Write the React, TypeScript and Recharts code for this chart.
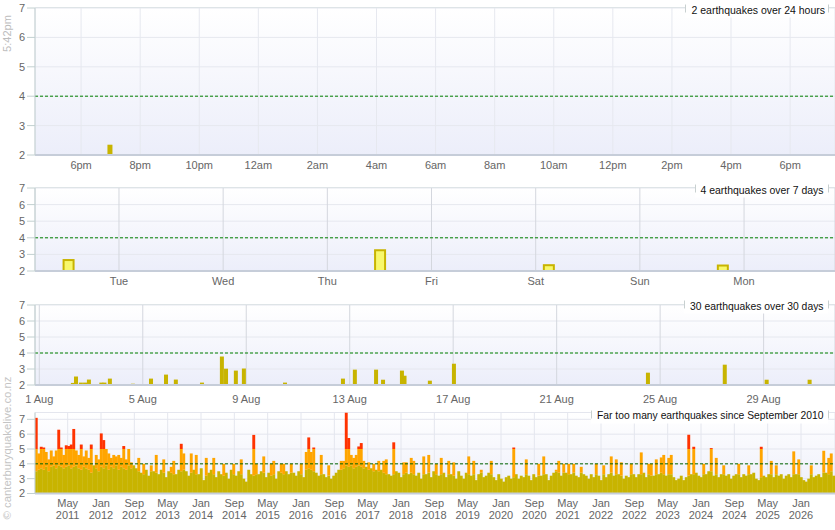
import React from "react";
import { Bar, BarChart, CartesianGrid, ReferenceLine, XAxis, YAxis } from "recharts";

// magnitude scale shared by all four panels
const MAG_TICKS = [2, 3, 4, 5, 6, 7];
const ALERT_MAG = 4;

// last 24 hours (hours counted from noon of the first day)
const HOUR_TICKS = [18, 20, 22, 24, 26, 28, 30, 32, 34, 36, 38, 40, 42];
const HOUR_LABELS = ["6pm", "8pm", "10pm", "12am", "2am", "4am", "6am", "8am", "10am", "12pm", "2pm", "4pm", "6pm"];
const DAY_QUAKE_HOURS = [18.96];
const DAY_QUAKE_MAGS = [2.35];

// last 7 days (days counted from Tuesday midnight)
const WEEK_LABELS = ["Tue", "Wed", "Thu", "Fri", "Sat", "Sun", "Mon"];
const WEEK_QUAKE_DAYS = [-0.48, 2.51, 4.13, 5.8];
const WEEK_QUAKE_MAGS = [2.66, 3.25, 2.35, 2.33];

// last 30 days (days counted from 1 Aug)
const MONTH_LABELS = ["1 Aug", "5 Aug", "9 Aug", "13 Aug", "17 Aug", "21 Aug", "25 Aug", "29 Aug"];
const MONTH_QUAKE_DAYS = [
  1.3, 1.42, 1.61, 1.77, 1.92, 2.4, 2.52, 2.73, 3.62, 4.32,
  4.9, 5.28, 6.29, 7.06, 7.22, 7.6, 7.91, 9.5, 11.74, 12.2,
  13.02, 13.29, 14.02, 14.12, 15.1, 16.03, 23.53, 26.5, 28.12, 29.78,
];
const MONTH_QUAKE_MAGS = [
  2.13, 2.53, 2.15, 2.15, 2.34, 2.15, 2.15, 2.4, 2.08, 2.4,
  2.65, 2.34, 2.15, 3.78, 3.02, 2.9, 3.03, 2.15, 2.4, 2.96,
  2.96, 2.33, 2.9, 2.58, 2.27, 3.33, 2.77, 3.27, 2.33, 2.33,
];

// since September 2010: one column per period, biggest quake and the usual level
const HISTORY_TICK_LABELS = [
  "May 2011", "Jan 2012", "Sep 2012", "May 2013", "Jan 2014", "Sep 2014", "May 2015", "Jan 2016",
  "Sep 2016", "May 2017", "Jan 2018", "Sep 2018", "May 2019", "Jan 2020", "Sep 2020", "May 2021",
  "Jan 2022", "Sep 2022", "May 2023", "Jan 2024", "Sep 2024", "May 2025", "Jan 2026",
];
const HISTORY_START = 2010.68;
const HISTORY_END = 2026.68;
const HISTORY_STEP = 0.05;
const HISTORY_PEAK = [
  7.1, 4.7, 5.15, 5.1, 4.8, 4.3, 4.9, 4.5, 4.9, 6.3, 5.1, 4.6, 5.25, 5.2, 5.3, 6.35, 4.9, 4.6, 5.3, 4.5,
  4.9, 4.4, 5.3, 3.9, 4.6, 4.3, 6.05, 5.6, 5.0, 4.7, 4.4, 4.6, 4.5, 4.6, 4.4, 5.2, 4.3, 5.0, 4.1, 3.9,
  3.7, 4.4, 3.4, 4.0, 3.6, 3.2, 3.9, 3.5, 4.6, 3.3, 3.6, 4.3, 3.1, 3.5, 3.8, 4.2, 3.3, 3.6, 5.35, 4.7,
  3.5, 3.2, 4.7, 3.6, 4.6, 3.3, 3.7, 2.9, 4.4, 3.4, 3.6, 4.4, 3.1, 3.5, 3.3, 4.0, 3.4, 3.0, 3.6, 4.0,
  3.2, 3.5, 4.3, 3.0, 2.8, 3.6, 3.3, 5.95, 4.0, 3.3, 3.5, 4.5, 3.1, 3.4, 4.0, 4.2, 3.0, 3.5, 4.0, 4.0,
  3.5, 3.3, 4.0, 3.4, 3.2, 3.5, 4.0, 3.1, 4.8, 5.78, 4.8, 5.1, 3.4, 3.2, 4.6, 3.3, 3.1, 3.9, 3.0, 3.2,
  3.4, 3.6, 4.2, 4.2, 7.8, 5.74, 4.6, 4.4, 4.6, 5.17, 5.4, 4.2, 3.8, 4.1, 3.7, 4.0, 3.6, 4.2, 3.6, 4.2,
  4.3, 3.3, 3.2, 5.45, 3.5, 3.4, 3.1, 4.1, 4.1, 3.3, 4.4, 4.2, 3.2, 3.4, 3.0, 4.5, 3.3, 4.6, 3.1, 3.5,
  4.0, 3.2, 4.4, 3.4, 3.1, 4.2, 3.3, 4.1, 3.0, 3.5, 3.2, 3.0, 3.4, 4.5, 3.2, 4.2, 2.9, 3.3, 3.6, 3.1,
  3.2, 3.4, 4.2, 3.1, 2.9, 3.3, 3.0, 2.8, 3.1, 3.2, 3.0, 5.1, 3.3, 3.0, 3.2, 3.1, 4.3, 3.2, 2.9, 3.3,
  3.1, 4.0, 3.2, 4.5, 3.3, 2.9, 3.2, 3.4, 3.6, 4.2, 3.2, 4.0, 3.4, 4.0, 3.3, 4.0, 3.2, 3.1, 3.8, 3.3,
  3.2, 3.0, 3.3, 3.1, 4.0, 3.2, 2.9, 3.9, 3.1, 3.3, 4.5, 3.2, 4.3, 3.3, 4.1, 3.0, 3.2, 3.1, 4.0, 3.3,
  3.1, 3.3, 4.77, 3.4, 3.1, 4.0, 4.0, 3.2, 4.3, 3.3, 4.43, 4.6, 3.2, 4.4, 4.6, 3.1, 2.9, 3.0, 3.2, 2.9,
  3.1, 5.96, 3.3, 5.15, 3.4, 3.2, 3.1, 4.0, 3.3, 3.5, 5.06, 3.2, 4.4, 3.1, 3.3, 3.9, 3.2, 3.3, 3.0, 3.2,
  3.3, 4.0, 3.1, 3.3, 3.2, 3.9, 3.3, 3.4, 3.0, 2.9, 5.15, 3.2, 3.1, 3.3, 4.2, 3.1, 3.9, 3.2, 3.3, 3.0,
  3.2, 3.3, 3.1, 4.84, 3.3, 4.3, 3.1, 2.9, 2.8, 3.0, 3.9, 3.1, 3.2, 3.3, 3.1, 4.88, 3.4, 4.4, 4.7, 3.2,
];
const HISTORY_BULK = [
  3.5, 3.6, 3.7, 3.6, 3.8, 3.5, 3.8, 3.9, 3.7, 3.9, 3.8, 3.7, 3.8, 3.9, 3.7, 3.8, 3.9, 3.7, 3.6, 3.8,
  3.7, 3.6, 3.4, 3.9, 3.7, 3.5, 3.8, 3.7, 3.9, 3.6, 3.8, 3.7, 3.9, 3.6, 3.8, 3.7, 3.6, 3.9, 3.7, 3.9,
  3.7, 3.5, 3.4, 3.3, 3.6, 3.2, 3.5, 3.5, 3.4, 3.3, 3.6, 3.4, 3.1, 3.5, 3.4, 3.3, 3.3, 3.6, 3.5, 3.6,
  3.5, 3.2, 3.4, 3.6, 3.3, 3.3, 3.7, 2.9, 3.2, 3.4, 3.6, 3.3, 3.1, 3.5, 3.3, 3.2, 3.4, 3.0, 3.6, 3.3,
  3.2, 3.5, 3.3, 3.0, 2.8, 3.6, 3.3, 3.2, 3.3, 3.3, 3.5, 3.4, 3.1, 3.4, 3.2, 3.3, 3.0, 3.5, 3.4, 3.3,
  3.5, 3.3, 3.4, 3.4, 3.2, 3.5, 3.3, 3.1, 3.6, 3.7, 3.6, 3.5, 3.4, 3.2, 3.3, 3.3, 3.1, 3.2, 3.0, 3.2,
  3.4, 3.6, 3.6, 3.7, 3.9, 3.8, 3.9, 3.7, 3.8, 3.9, 3.8, 3.7, 3.8, 3.6, 3.7, 3.5, 3.6, 3.5, 3.6, 3.4,
  3.3, 3.3, 3.2, 3.3, 3.5, 3.4, 3.1, 3.3, 3.4, 3.3, 3.4, 3.3, 3.2, 3.4, 3.0, 3.3, 3.3, 3.4, 3.1, 3.5,
  3.3, 3.2, 3.3, 3.4, 3.1, 3.3, 3.3, 3.2, 3.0, 3.5, 3.2, 3.0, 3.4, 3.3, 3.2, 3.3, 2.9, 3.3, 3.4, 3.1,
  3.2, 3.4, 3.3, 3.1, 2.9, 3.3, 3.0, 2.8, 3.1, 3.2, 3.0, 3.1, 3.3, 3.0, 3.2, 3.1, 3.3, 3.2, 2.9, 3.3,
  3.1, 3.2, 3.2, 3.3, 3.3, 2.9, 3.2, 3.4, 3.5, 3.4, 3.2, 3.4, 3.4, 3.3, 3.3, 3.4, 3.2, 3.1, 3.4, 3.3,
  3.2, 3.0, 3.3, 3.1, 3.3, 3.2, 2.9, 3.3, 3.1, 3.3, 3.4, 3.2, 3.3, 3.3, 3.2, 3.0, 3.2, 3.1, 3.3, 3.3,
  3.1, 3.3, 3.3, 3.4, 3.1, 3.3, 3.2, 3.2, 3.3, 3.3, 3.4, 3.3, 3.2, 3.3, 3.3, 3.1, 2.9, 3.0, 3.2, 2.9,
  3.1, 3.2, 3.3, 3.3, 3.4, 3.2, 3.1, 3.3, 3.3, 3.5, 3.5, 3.2, 3.3, 3.1, 3.3, 3.3, 3.2, 3.3, 3.0, 3.2,
  3.3, 3.3, 3.1, 3.3, 3.2, 3.3, 3.3, 3.4, 3.0, 2.9, 3.1, 3.2, 3.1, 3.3, 3.3, 3.1, 3.3, 3.2, 3.3, 3.0,
  3.2, 3.3, 3.1, 3.3, 3.3, 3.3, 3.1, 2.9, 2.8, 3.0, 3.3, 3.1, 3.2, 3.3, 3.1, 3.4, 3.4, 3.3, 3.5, 3.2,
];

const MONTHS = ["Jan", "Feb", "Mar", "Apr", "May", "Jun", "Jul", "Aug", "Sep", "Oct", "Nov", "Dec"];

const OLIVE = "#c8b400";
const ORANGE = "#ffa500";
const RED = "#ff3300";
const TICK_FILL = "#666666";
const AXIS_STROKE = "#c2d0d0";
const BASE_STROKE = "#c6cdd9";
const FONT = "'Liberation Sans', Arial, sans-serif";

const dayData = DAY_QUAKE_HOURS.map((t, i) => ({ t, mag: DAY_QUAKE_MAGS[i] }));
const weekData = WEEK_QUAKE_DAYS.map((t, i) => ({ t, mag: WEEK_QUAKE_MAGS[i] }));
const monthData = MONTH_QUAKE_DAYS.map((t, i) => ({ t, mag: MONTH_QUAKE_MAGS[i] }));

const weekTicks = WEEK_LABELS.map((_, i) => i);
const monthTicks = MONTH_LABELS.map((l) => parseInt(l, 10) - 1);

const historyTicks = HISTORY_TICK_LABELS.map((l) => {
  const [m, y] = l.split(" ");
  return Number(y) + MONTHS.indexOf(m) / 12;
});

// split each column into olive / orange / red pieces for stacking
const historyData = HISTORY_PEAK.map((peak, i) => {
  const olive = Math.min(HISTORY_BULK[i], peak);
  const orangeTop = Math.min(peak, 5);
  return {
    t: HISTORY_START + (i + 0.5) * HISTORY_STEP,
    olive,
    orange: Math.max(0, orangeTop - olive),
    red: Math.max(0, peak - Math.max(5, olive)),
  };
});

// recharts squeezes bars on a number axis to the closest gap between points;
// keep the bar centred where the scale puts it but give it a fixed width
const fixedBar = (w: number) => (props: any) => {
  let { x, y, width, height } = props;
  if (!height) return <g />;
  if (height < 0) {
    y += height;
    height = -height;
  }
  return (
    <rect
      x={x + width / 2 - w / 2}
      y={y}
      width={w}
      height={height}
      fill={props.fill}
      stroke={props.stroke}
      strokeWidth={props.strokeWidth}
    />
  );
};

function PlotBg({ top, height }: { top: number; height: number }) {
  return (
    <div
      style={{
        position: "absolute",
        left: 35,
        top: top - 1,
        width: 800,
        height,
        background: "linear-gradient(#ffffff, #eceefa)",
        borderTop: "1px solid #d6dfdf",
      }}
    />
  );
}

function HistoryTick(props: any) {
  const { x, y, payload } = props;
  const idx = historyTicks.findIndex((v) => Math.abs(v - payload.value) < 1e-6);
  const [m, yr] = (HISTORY_TICK_LABELS[idx] ?? "").split(" ");
  return (
    <text x={x} y={y} textAnchor="middle" fill={TICK_FILL} fontSize={11}>
      <tspan x={x} dy="0.71em">{m}</tspan>
      <tspan x={x} dy="1.03em">{yr}</tspan>
    </text>
  );
}

const yAxisProps = {
  type: "number" as const,
  ticks: MAG_TICKS,
  width: 35,
  interval: 0 as const,
  allowDataOverflow: true,
  axisLine: { stroke: AXIS_STROKE },
  tickLine: { stroke: AXIS_STROKE },
  tickSize: 8,
  tick: { fill: TICK_FILL, fontSize: 11 },
};

const xAxisBase = {
  type: "number" as const,
  dataKey: "t",
  interval: 0 as const,
  allowDataOverflow: true,
  tickLine: false,
  axisLine: { stroke: BASE_STROKE, strokeWidth: 2 },
};

const TITLES = [
  { x0: 685, x1: 828, y: 9.5, tx: 691.5, tw: 133.5, fs: 10.5, text: "2 earthquakes over 24 hours" },
  { x0: 695, x1: 828, y: 189.5, tx: 700.5, tw: 123, fs: 10.5, text: "4 earthquakes over 7 days" },
  { x0: 684, x1: 828, y: 305.5, tx: 690, tw: 133.5, fs: 10.5, text: "30 earthquakes over 30 days" },
  { x0: 591, x1: 828, y: 415.5, tx: 597, tw: 226.5, fs: 10.3, text: "Far too many earthquakes since September 2010" },
];

export default function App() {
  return (
    <div style={{ position: "absolute", left: 0, top: 0, width: 835, height: 530, background: "#fff", fontFamily: FONT, overflow: "hidden" }}>
      {/* last 24 hours */}
      <PlotBg top={8} height={147} />
      <div style={{ position: "absolute", left: 0, top: 0 }}>
        <BarChart width={835} height={180} data={dayData} margin={{ top: 8, right: 0, bottom: 0, left: 0 }}>
          <CartesianGrid stroke="#e6e8ef" />
          <XAxis
            {...xAxisBase}
            domain={[16.44, 43.52]}
            ticks={HOUR_TICKS}
            height={25}
            tickSize={4}
            tickFormatter={(v: number) => HOUR_LABELS[HOUR_TICKS.indexOf(v)] ?? ""}
            tick={{ fill: TICK_FILL, fontSize: 11 }}
          />
          <YAxis {...yAxisProps} domain={[2, 7]} />
          <ReferenceLine y={ALERT_MAG} stroke="#008000" strokeDasharray="3 2" />
          <Bar dataKey="mag" fill={OLIVE} barSize={5} shape={fixedBar(5)} isAnimationActive={false} />
        </BarChart>
      </div>

      {/* last 7 days */}
      <PlotBg top={188} height={83} />
      <div style={{ position: "absolute", left: 0, top: 180 }}>
        <BarChart width={835} height={116} data={weekData} margin={{ top: 8, right: 0, bottom: 0, left: 0 }}>
          <CartesianGrid stroke="#e6e8ef" vertical={false} />
          <CartesianGrid stroke="#d4d7de" horizontal={false} />
          <XAxis
            {...xAxisBase}
            domain={[-0.806, 6.873]}
            ticks={weekTicks}
            height={25}
            tickSize={4}
            tickFormatter={(v: number) => WEEK_LABELS[v] ?? ""}
            tick={{ fill: TICK_FILL, fontSize: 11 }}
          />
          <YAxis {...yAxisProps} domain={[2, 7]} />
          <ReferenceLine y={ALERT_MAG} stroke="#008000" strokeDasharray="3 2" />
          <Bar
            dataKey="mag"
            fill="#f8f86c"
            stroke={OLIVE}
            strokeWidth={2}
            barSize={10}
            shape={fixedBar(10)}
            isAnimationActive={false}
          />
        </BarChart>
      </div>

      {/* last 30 days */}
      <PlotBg top={305} height={80} />
      <div style={{ position: "absolute", left: 0, top: 296 }}>
        <BarChart width={835} height={114} data={monthData} margin={{ top: 9, right: 0, bottom: 0, left: 0 }}>
          <CartesianGrid stroke="#e6e8ef" vertical={false} />
          <CartesianGrid stroke="#d4d7de" horizontal={false} />
          <XAxis
            {...xAxisBase}
            domain={[-0.166, 30.76]}
            ticks={monthTicks}
            height={25}
            tickSize={8}
            tickFormatter={(v: number) => MONTH_LABELS[monthTicks.indexOf(v)] ?? ""}
            tick={{ fill: TICK_FILL, fontSize: 11 }}
          />
          <YAxis {...yAxisProps} domain={[2, 7]} />
          <ReferenceLine y={ALERT_MAG} stroke="#008000" strokeDasharray="3 2" />
          <Bar dataKey="mag" fill={OLIVE} shape={fixedBar(4)} isAnimationActive={false} />
        </BarChart>
      </div>

      {/* since September 2010 */}
      <PlotBg top={412.5} height={81} />
      <div style={{ position: "absolute", left: 0, top: 410 }}>
        <BarChart width={835} height={119.5} data={historyData} margin={{ top: 2.5, right: 0, bottom: 0, left: 0 }}>
          <CartesianGrid stroke="#e4e6ee" />
          <XAxis
            {...xAxisBase}
            domain={[HISTORY_START, HISTORY_END]}
            ticks={historyTicks}
            height={36}
            tickSize={4}
            tick={<HistoryTick />}
          />
          <YAxis {...yAxisProps} domain={[2, 7.46]} />
          <Bar dataKey="olive" stackId="m" fill={OLIVE} shape={fixedBar(2.9)} isAnimationActive={false} />
          <Bar dataKey="orange" stackId="m" fill={ORANGE} shape={fixedBar(2.9)} isAnimationActive={false} />
          <Bar dataKey="red" stackId="m" fill={RED} shape={fixedBar(2.9)} isAnimationActive={false} />
          <ReferenceLine y={ALERT_MAG} stroke="#006400" strokeDasharray="3 2" />
        </BarChart>
      </div>

      {/* titles and side notes */}
      <svg width={835} height={530} style={{ position: "absolute", left: 0, top: 0, pointerEvents: "none" }}>
        {TITLES.map((t) => (
          <g key={t.text}>
            <rect x={t.x0} y={t.y - 9} width={t.x1 - t.x0} height={17} fill="#ffffff" />
            <line x1={t.x0 + 0.5} x2={t.x0 + 0.5} y1={t.y - 5} y2={t.y + 3} stroke="#c8d0d0" />
            <line x1={t.x1 + 0.5} x2={t.x1 + 0.5} y1={t.y - 5} y2={t.y + 3} stroke="#c8d0d0" />
            <text
              x={t.tx}
              y={t.y}
              dominantBaseline="central"
              fontSize={t.fs}
              fill="#111"
              textLength={t.tw}
              lengthAdjust="spacingAndGlyphs"
            >
              {t.text}
            </text>
          </g>
        ))}
        <text
          transform="translate(7,33.5) rotate(-90)"
          textAnchor="middle"
          dominantBaseline="central"
          fontSize={11}
          fill="#bdbdbd"
          textLength={37}
          lengthAdjust="spacingAndGlyphs"
        >
          5:42pm
        </text>
        <text
          transform="translate(7,448) rotate(-90)"
          textAnchor="middle"
          dominantBaseline="central"
          fontSize={11}
          fill="#c4c4c4"
          textLength={143}
          lengthAdjust="spacingAndGlyphs"
        >
          © canterburyquakelive.co.nz
        </text>
      </svg>
    </div>
  );
}
